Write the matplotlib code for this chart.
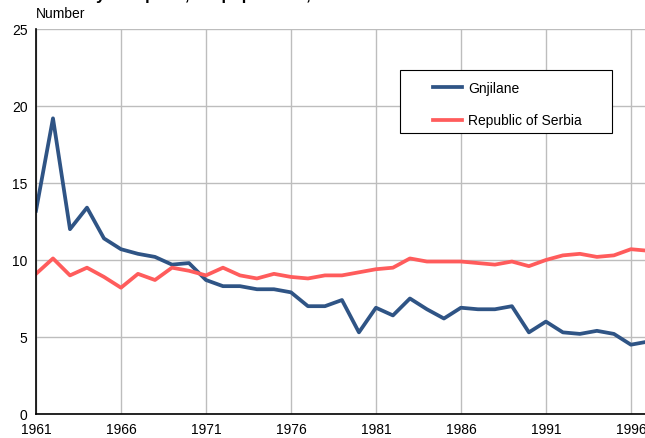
import matplotlib
matplotlib.use("Agg")
import matplotlib.pyplot as plt
from matplotlib.patches import Rectangle

plt.rcParams['font.family'] = ['Liberation Sans', 'DejaVu Sans']

years = list(range(1961, 1998))
gnjilane = [13.2, 19.2, 12.0, 13.4, 11.4, 10.7, 10.4, 10.2, 9.7, 9.8,
            8.7, 8.3, 8.3, 8.1, 8.1, 7.9, 7.0, 7.0, 7.4, 5.3,
            6.9, 6.4, 7.5, 6.8, 6.2, 6.9, 6.8, 6.8, 7.0, 5.3,
            6.0, 5.3, 5.2, 5.4, 5.2, 4.5, 4.7]
serbia = [9.1, 10.1, 9.0, 9.5, 8.9, 8.2, 9.1, 8.7, 9.5, 9.3,
          9.0, 9.5, 9.0, 8.8, 9.1, 8.9, 8.8, 9.0, 9.0, 9.2,
          9.4, 9.5, 10.1, 9.9, 9.9, 9.9, 9.8, 9.7, 9.9, 9.6,
          10.0, 10.3, 10.4, 10.2, 10.3, 10.7, 10.6]
xticks = [1961, 1966, 1971, 1976, 1981, 1986, 1991, 1996]
yticks = [0, 5, 10, 15, 20, 25]

fig = plt.figure(figsize=(6.45, 4.39), dpi=100)
ax = fig.add_axes([0.0558, 0.0547, 0.9442, 0.877])

ax.plot(years, gnjilane, color='#2f5485', linewidth=2.7, label='Gnjilane', solid_joinstyle='round')
ax.plot(years, serbia, color='#ff5c5c', linewidth=2.7, label='Republic of Serbia', solid_joinstyle='round')

ax.set_xlim(1961, 1996.83)
ax.set_ylim(0, 25)
ax.set_xticks(xticks)
ax.set_yticks(yticks)
ax.tick_params(length=0, labelsize=10, pad=6)
ax.grid(True, color='#bdbdbd', linewidth=1)
ax.set_axisbelow(True)
for s in ['top', 'right']:
    ax.spines[s].set_visible(False)
for s in ['left', 'bottom']:
    ax.spines[s].set_color('black')
    ax.spines[s].set_linewidth(1.2)

# legend box drawn separately to get wider side padding
ax.add_patch(Rectangle((0.598, 0.730), 0.348, 0.164, transform=ax.transAxes,
                       facecolor='white', edgecolor='black', linewidth=0.8, zorder=4))
leg = ax.legend(loc='upper left', bbox_to_anchor=(0.652, 0.864), fontsize=10,
                frameon=False, handlelength=2.1, borderpad=0, labelspacing=1.3,
                handletextpad=0.4, borderaxespad=0)
leg.set_zorder(5)

fig.text(0.056, 0.953, 'Number', fontsize=10, ha='left', va='bottom')
fig.text(0.056, 0.993, 'Mortality rate per 1,000 population, 1961-1997', fontsize=12,
         fontweight='bold', ha='left', va='bottom')

fig.savefig('out.png', dpi=100)
